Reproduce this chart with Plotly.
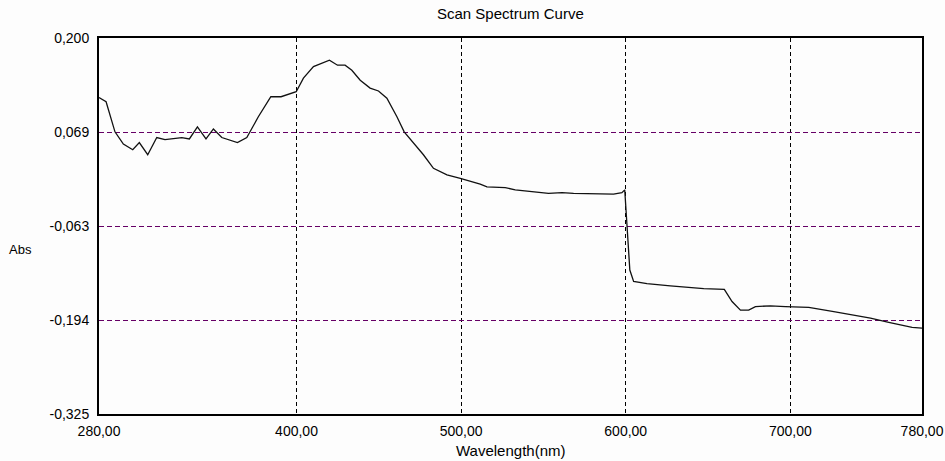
import plotly.graph_objects as go

# Wavelength (nm) and absorbance
wavelength = [280.0, 284.3, 289.7, 294.8, 300.5, 304.5, 309.6, 315.1, 320.1, 325.0,
              330.3, 334.9, 339.8, 345.0, 349.5, 354.6, 359.6, 364.1, 369.8, 376.8,
              384.4, 390.6, 399.8, 404.2, 410.3, 415.4, 420.0, 424.9, 429.5, 433.6,
              438.7, 444.7, 449.8, 454.9, 461.0, 465.4, 471.1, 477.1, 483.2, 491.4,
              499.5, 511.6, 515.7, 526.8, 532.9, 548.1, 553.1, 561.3, 568.3, 592.6,
              597.7, 599.4, 601.0, 602.5, 604.8, 612.9, 627.1, 647.4, 659.9, 664.6,
              669.7, 674.7, 678.8, 687.9, 697.0, 711.2, 726.4, 748.7, 759.8, 774.0,
              780.0]
absorbance = [0.117, 0.111, 0.069, 0.052, 0.044, 0.054, 0.037, 0.061, 0.058, 0.059,
              0.061, 0.059, 0.076, 0.059, 0.073, 0.061, 0.057, 0.054, 0.061, 0.090,
              0.118, 0.118, 0.125, 0.144, 0.160, 0.165, 0.169, 0.162, 0.162, 0.155,
              0.141, 0.130, 0.126, 0.116, 0.090, 0.069, 0.053, 0.037, 0.018, 0.009,
              0.004, -0.004, -0.008, -0.009, -0.012, -0.015, -0.017, -0.016, -0.017, -0.018,
              -0.016, -0.012, -0.068, -0.124, -0.140, -0.143, -0.146, -0.150, -0.151, -0.168,
              -0.180, -0.180, -0.175, -0.174, -0.175, -0.176, -0.182, -0.191, -0.197, -0.204,
              -0.205]

x_tickvals = [280, 400, 500, 600, 700, 780]
x_ticktext = ["280,00", "400,00", "500,00", "600,00", "700,00", "780,00"]
y_tickvals = [0.2, 0.06875, -0.0625, -0.19375, -0.325]
y_ticktext = ["0,200", "0,069", "-0,063", "-0,194", "-0,325"]

FONT = "Liberation Sans, Arial, sans-serif"

fig = go.Figure()
fig.add_trace(go.Scatter(x=wavelength, y=absorbance, mode="lines",
                         line=dict(color="#111111", width=1.3), showlegend=False,
                         hoverinfo="skip"))

fig.update_layout(
    width=945, height=461,
    margin=dict(l=99, r=23, t=38, b=47),
    paper_bgcolor="#fdfdfd", plot_bgcolor="#fdfdfd",
    font=dict(family=FONT, size=14, color="#000000"),
    showlegend=False,
    xaxis=dict(range=[280, 780], tickmode="array", tickvals=x_tickvals, ticktext=x_ticktext,
               showgrid=True, gridcolor="#000000", gridwidth=1, griddash="4px,3px",
               zeroline=False, showline=True, linecolor="#000000", linewidth=2, mirror=True,
               ticks="", ticklabelstandoff=3, tickfont=dict(size=14), automargin=False),
    yaxis=dict(range=[-0.325, 0.2], tickmode="array", tickvals=y_tickvals, ticktext=y_ticktext,
               showgrid=True, gridcolor="#660066", gridwidth=1, griddash="5px,3px",
               zeroline=False, showline=True, linecolor="#000000", linewidth=2, mirror=True,
               ticks="", ticklabelstandoff=5, tickfont=dict(size=14), automargin=False),
    annotations=[
        dict(text="Scan Spectrum Curve", xref="paper", yref="paper", x=0.5, y=1,
             yshift=25, xanchor="center", yanchor="middle", showarrow=False,
             font=dict(size=15)),
        dict(text="Abs", xref="paper", yref="paper", x=0, xshift=-79, y=0.5, yshift=-23,
             xanchor="center", yanchor="middle", showarrow=False, font=dict(size=13)),
        dict(text="Wavelength(nm)", xref="paper", yref="paper", x=0.5, y=0,
             yshift=-36, xanchor="center", yanchor="middle", showarrow=False,
             font=dict(size=15)),
    ],
)

fig.write_html("out.html")
